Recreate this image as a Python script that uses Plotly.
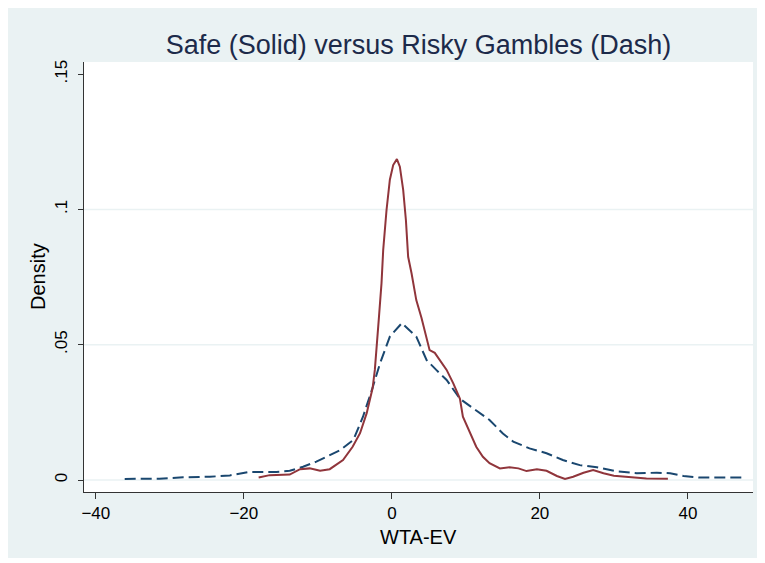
import plotly.graph_objects as go

# Safe gambles (solid line) - kernel density of WTA-EV
safe_x = [-18.0, -16.5, -13.8, -12.4, -11.1, -9.7, -8.4, -6.6, -5.3, -4.3, -3.4, -2.6, -2.3,
          -2.07, -1.75, -1.4, -1.17, -0.72, -0.27, 0.18, 0.68, 1.08, 1.53, 1.9, 2.2, 2.66,
          3.3, 4.0, 4.7, 5.1, 5.8, 7.4, 8.3, 9.2, 9.6, 10.5, 11.4, 12.3, 13.2, 14.6, 15.9,
          17.1, 18.2, 19.6, 20.9, 22.3, 23.4, 24.5, 25.9, 27.2, 28.6, 30.0, 31.7, 34.4, 37.3]
safe_y = [0.0009, 0.0018, 0.0020, 0.0040, 0.0043, 0.0034, 0.0040, 0.0074, 0.0123, 0.0173,
          0.0247, 0.0340, 0.0407, 0.0480, 0.0600, 0.0727, 0.0850, 0.0998, 0.1110, 0.1164,
          0.1186, 0.1158, 0.1072, 0.0960, 0.0825, 0.0764, 0.0665, 0.0600, 0.0517, 0.0480,
          0.0470, 0.0407, 0.0357, 0.0300, 0.0234, 0.0180, 0.0123, 0.0086, 0.0062, 0.0043,
          0.0047, 0.0043, 0.0033, 0.0040, 0.0034, 0.0015, 0.0004, 0.0012, 0.0027, 0.0037,
          0.0025, 0.0016, 0.0012, 0.0006, 0.0005]

# Risky gambles (dashed line)
risky_x = [-36.1, -31.4, -28.2, -24.6, -21.9, -19.2, -17.4, -15.6, -13.8, -12.0, -10.2, -8.6,
           -7.0, -5.2, -3.9, -2.7, -1.6, -0.27, 1.35, 3.3, 4.7, 6.0, 7.4, 9.2, 11.0, 13.2,
           15.0, 16.4, 18.6, 20.9, 23.1, 25.4, 27.7, 30.4, 33.1, 35.8, 37.6, 39.4, 41.6, 47.3]
risky_y = [0.0004, 0.0005, 0.0010, 0.0012, 0.0017, 0.0030, 0.0030, 0.0030, 0.0034, 0.0049,
           0.0068, 0.0089, 0.0110, 0.0148, 0.0234, 0.0333, 0.0431, 0.0530, 0.0580, 0.0530,
           0.0443, 0.0407, 0.0370, 0.0300, 0.0265, 0.0222, 0.0172, 0.0142, 0.0117, 0.0099,
           0.0074, 0.0055, 0.0047, 0.0032, 0.0025, 0.0027, 0.0025, 0.0015, 0.0009, 0.0009]

x_ticks = [-40, -20, 0, 20, 40]
y_ticks = [0, 0.05, 0.1, 0.15]
y_tick_text = ["0", ".05", ".1", ".15"]
grid_vals = [0, 0.05, 0.1]

title_text = "Safe (Solid) versus Risky Gambles (Dash)"
x_title = "WTA-EV"
y_title = "Density"

FONT = "Arial, Liberation Sans, sans-serif"
BG = "#EAF2F3"

W, H = 757, 550

fig = go.Figure()
fig.add_trace(go.Scatter(x=risky_x, y=risky_y, mode="lines",
                         line=dict(color="#1A476F", width=2, dash="11px,5px"),
                         showlegend=False))
fig.add_trace(go.Scatter(x=safe_x, y=safe_y, mode="lines",
                         line=dict(color="#90353B", width=2),
                         showlegend=False))

shapes = []
for g in grid_vals:
    shapes.append(dict(type="line", xref="paper", yref="y", x0=0, x1=1, y0=g, y1=g,
                       line=dict(color=BG, width=1.5), layer="below"))

fig.update_layout(
    width=W, height=H,
    margin=dict(l=76, r=12, t=54, b=66),
    paper_bgcolor=BG, plot_bgcolor="white",
    shapes=shapes,
    font=dict(family=FONT, color="black", size=16),
    title=dict(text=title_text, x=0.5, xref="paper", xanchor="center",
               y=1 - 37 / H, yref="container", yanchor="middle",
               font=dict(size=27, color="#1C2A4A", family=FONT)),
    annotations=[
        dict(text=x_title, xref="paper", yref="paper", x=0.5, y=-45 / 430,
             xanchor="center", yanchor="middle", showarrow=False,
             font=dict(size=20, color="black", family=FONT)),
        dict(text=y_title, xref="paper", yref="paper", x=-46 / 669, y=0.5,
             xanchor="center", yanchor="middle", textangle=-90, showarrow=False,
             font=dict(size=20, color="black", family=FONT)),
    ],
)
fig.update_xaxes(range=[-41.6, 48.8], tickvals=x_ticks, showgrid=False, zeroline=False,
                 showline=True, linecolor="#333333", linewidth=1,
                 ticks="outside", ticklen=6, tickcolor="#333333",
                 tickfont=dict(size=17, color="black", family=FONT))
fig.update_yaxes(range=[-0.00443, 0.1545], tickvals=y_ticks, ticktext=y_tick_text,
                 showgrid=False, zeroline=False,
                 showline=True, linecolor="#333333", linewidth=1,
                 ticks="outside", ticklen=5, tickcolor="#333333", tickangle=-90,
                 ticklabelstandoff=4,
                 tickfont=dict(size=17, color="black", family=FONT))

fig.write_html("out.html")
